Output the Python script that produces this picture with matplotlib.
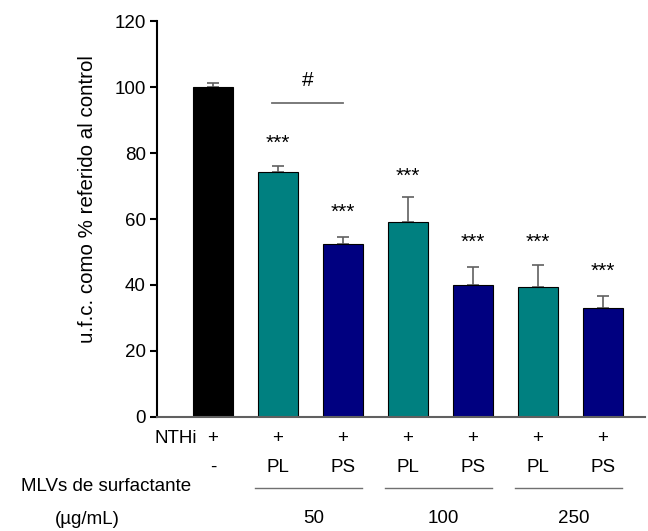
import numpy as np
import matplotlib
matplotlib.use("Agg")
import matplotlib.pyplot as plt
from matplotlib.transforms import blended_transform_factory

plt.rcParams['font.family'] = ['Liberation Sans', 'DejaVu Sans']

# data
values = [100.1, 74.2, 52.5, 59.2, 40.1, 39.4, 33.0]
errors = [1.1, 2.0, 1.9, 7.5, 5.4, 6.6, 3.6]
colors = ['#000000', '#008080', '#000080', '#008080', '#000080', '#008080', '#000080']
nthi_row = ['+', '+', '+', '+', '+', '+', '+']
mlv_row = ['-', 'PL', 'PS', 'PL', 'PS', 'PL', 'PS']
stars = ['', '***', '***', '***', '***', '***', '***']
star_y = [0, 83, 62, 73, 53, 53, 44]
doses = ['50', '100', '250']

x = np.arange(len(values))
fs = 13.5

fig = plt.figure(figsize=(6.48, 5.31), dpi=100)
ax = fig.add_axes([0.242, 0.215, 0.753, 0.745])

ax.bar(x, values, width=0.615, color=colors, edgecolor='black', linewidth=0.8, zorder=2)
ax.errorbar(x, values, yerr=[np.zeros(len(errors)), errors], fmt='none',
            ecolor='#606060', elinewidth=1.2, capsize=4.3, capthick=1.2, zorder=1)

for xi, s, sy in zip(x, stars, star_y):
    if s:
        ax.text(xi, sy, s, ha='center', va='center', fontsize=15)

# significance bar between PL and PS at 50
ax.plot([0.91, 2.0], [95.3, 95.3], color='#707070', lw=1.3)
ax.text(1.455, 102, '#', ha='center', va='center', fontsize=15)

ax.set_xlim(-0.862, 6.646)
ax.set_ylim(0, 120)
ax.set_yticks(np.arange(0, 121, 20))
ax.set_xticks([])
ax.tick_params(axis='y', labelsize=fs, length=5, width=1.5, direction='out', pad=3)
ax.spines['top'].set_visible(False)
ax.spines['right'].set_visible(False)
ax.spines['left'].set_linewidth(1.5)
ax.spines['bottom'].set_color('#606060')
ax.spines['bottom'].set_linewidth(1.5)
ax.set_ylabel('u.f.c. como % referido al control', fontsize=14.8)
ax.yaxis.set_label_coords(-0.123, 0.55)

# labels under the axis
tr = blended_transform_factory(ax.transData, fig.transFigure)
for xi, a, b in zip(x, nthi_row, mlv_row):
    ax.text(xi, 0.175, a, transform=tr, ha='center', va='center', fontsize=fs)
    ax.text(xi, 0.119, b, transform=tr, ha='center', va='center', fontsize=fs)
ax.text(-0.25, 0.175, 'NTHi', transform=tr, ha='right', va='center', fontsize=fs)

for g, d in enumerate(doses):
    c = 1.5 + 2 * g
    ax.plot([c - 0.85, c + 0.8], [0.081, 0.081], transform=tr, color='#707070',
            lw=1.0, clip_on=False)
    ax.text(c + 0.05, 0.024, d, transform=tr, ha='center', va='center', fontsize=fs)

fig.text(0.163, 0.083, 'MLVs de surfactante', ha='center', va='center', fontsize=fs)
fig.text(0.134, 0.022, '(µg/mL)', ha='center', va='center', fontsize=fs)

fig.savefig('out.png', dpi=100)
